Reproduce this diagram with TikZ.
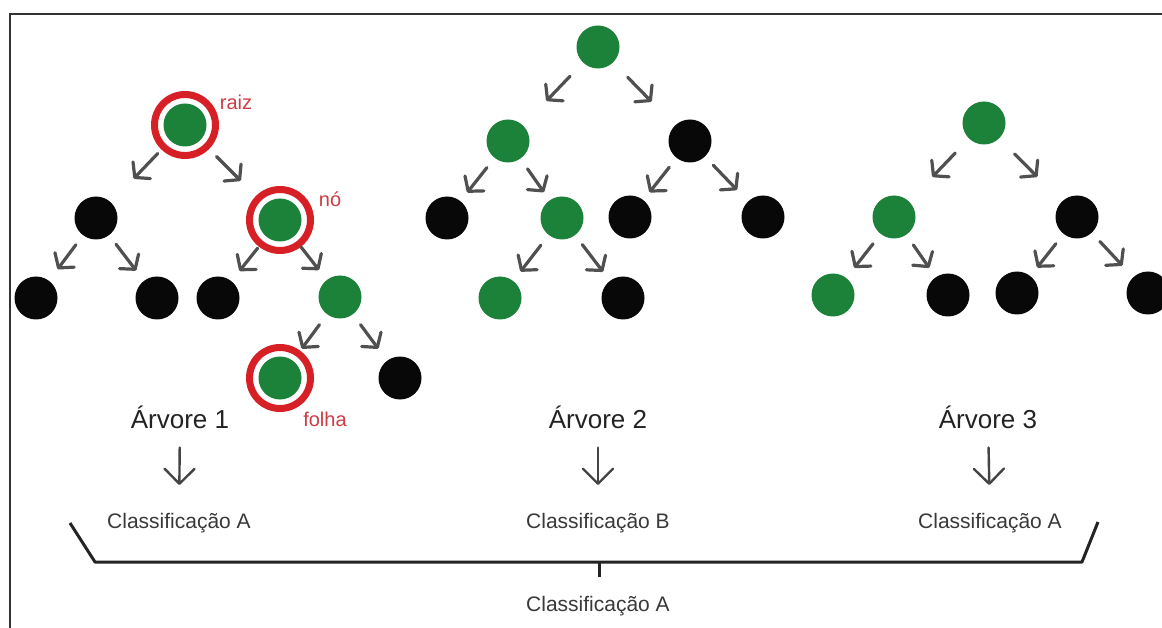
\documentclass[tikz,border=0pt]{standalone}
\usepackage{fontspec}
\setmainfont{Liberation Sans}
\usetikzlibrary{arrows.meta}
\definecolor{ngreen}{RGB}{28,130,58}
\definecolor{nblack}{RGB}{8,8,8}
\definecolor{ringred}{RGB}{214,32,38}
\definecolor{lblred}{RGB}{205,60,68}
\definecolor{arrgray}{RGB}{80,80,80}
\definecolor{txtgray}{RGB}{35,35,35}
\begin{document}
\begin{tikzpicture}[x=1pt,y=-1pt,
  dot/.style={circle, minimum size=43pt, inner sep=0pt, outer sep=0pt},
  gdot/.style={dot, fill=ngreen},
  bdot/.style={dot, fill=nblack},
  ringmark/.style={circle, minimum size=61pt, inner sep=0pt, draw=ringred, line width=7pt},
  tarrow/.style={draw=arrgray, line width=3.2pt, line cap=round,
    -{Straight Barb[length=10pt,width=24pt,round]}},
  darrow/.style={draw=txtgray!85!white, line width=2.4pt, line cap=round,
    -{Straight Barb[length=15pt,width=30pt,round]}, shorten <=19pt, shorten >=28pt},
  redlbl/.style={text=lblred, font=\fontsize{20}{22}\selectfont, inner sep=0pt},
  treelbl/.style={text=txtgray, font=\fontsize{26}{28}\selectfont, inner sep=0pt},
  clslbl/.style={text=txtgray!90!white, font=\fontsize{21}{23}\selectfont, inner sep=0pt},
  bracketline/.style={draw=txtgray, line width=3pt, line join=round},
  frameline/.style={draw=black!80, line width=2.6pt, line join=miter}
]
\useasboundingbox (0,0) rectangle (1162,628);
\clip (0,0) rectangle (1162,628);
\fill[white] (0,0) rectangle (1162,628);
\draw[frameline] (1162,14) -- (10,14) -- (10,628);

% ---------- Tree 1 ----------
\node[gdot] (a0) at (185,125) {};
\node[ringmark] (a0r) at (a0) {};
\node[bdot] (a1) at (96,218) {};
\node[gdot] (a2) at (280,220) {};
\node[ringmark] (a2r) at (a2) {};
\node[bdot] (a3) at (36,298) {};
\node[bdot] (a4) at (157,298) {};
\node[bdot] (a5) at (218,298) {};
\node[gdot] (a6) at (340,297) {};
\node[gdot] (a7) at (280,378) {};
\node[ringmark] (a7r) at (a7) {};
\node[bdot] (a8) at (400,378) {};
\node[redlbl] (lraiz) at (236,102) {raiz};
\node[redlbl] (lno) at (330,199) {nó};
\node[redlbl] (lfolha) at (325,419) {folha};

% ---------- Tree 2 ----------
\node[gdot] (b0) at (598,47) {};
\node[gdot] (b1) at (508,141) {};
\node[bdot] (b2) at (690,141) {};
\node[bdot] (b3) at (447,218) {};
\node[gdot] (b4) at (562,218) {};
\node[bdot] (b5) at (630,217) {};
\node[bdot] (b6) at (763,217) {};
\node[gdot] (b7) at (500,298) {};
\node[bdot] (b8) at (623,298) {};

% ---------- Tree 3 ----------
\node[gdot] (c0) at (984,123) {};
\node[gdot] (c1) at (894,217) {};
\node[bdot] (c2) at (1077,217) {};
\node[gdot] (c3) at (833,295) {};
\node[bdot] (c4) at (948,295) {};
\node[bdot] (c5) at (1017,293) {};
\node[bdot] (c6) at (1148,293) {};

% ---------- Tree arrows (parent/child/shorten start/shorten end) ----------
\foreach \p/\c/\s/\e in {
  a0/a1/18/33, a0/a2/23/34, a1/a3/12/14.5, a1/a4/11.5/13,
  a2/a5/14.5/13, a2/a6/13/12.7, a6/a7/13/15, a6/a8/13/15,
  b0/b1/19/34, b0/b2/21/33.5, b1/b3/12.5/11, b1/b4/12.5/10,
  b2/b5/12/10, b2/b6/12/16, b4/b7/13/12, b4/b8/12/11.5,
  c0/c1/20/34, c0/c2/22/35, c1/c3/12.5/13, c1/c4/12.5/11.5,
  c2/c5/12.5/11, c2/c6/12/16}
  \draw[tarrow, shorten <=\s pt, shorten >=\e pt] (\p) -- (\c);

% ---------- Labels and classification ----------
\node[treelbl] (t1) at (180,417) {Árvore 1};
\node[treelbl] (t2) at (598,417) {Árvore 2};
\node[treelbl] (t3) at (988,417) {Árvore 3};
\node[clslbl] (k1) at (179,523) {Classificação A};
\node[clslbl] (k2) at (598,523) {Classificação B};
\node[clslbl] (k3) at (990,523) {Classificação A};
\draw[darrow] (t1) -- (k1);
\draw[darrow] (t2) -- (k2);
\draw[darrow] (t3) -- (k3);

% ---------- Bracket ----------
\coordinate (bl) at (70,523);
\coordinate (blc) at (95,562);
\coordinate (brc) at (1082,562);
\coordinate (br) at (1098,522);
\coordinate (bm) at (599,562);
\coordinate (bt) at (599,577);
\draw[bracketline] (bl) -- (blc) -- (brc) -- (br);
\draw[bracketline] (bm) -- (bt);
\node[clslbl] (kf) at (598,606) {Classificação A};
\end{tikzpicture}
\end{document}
